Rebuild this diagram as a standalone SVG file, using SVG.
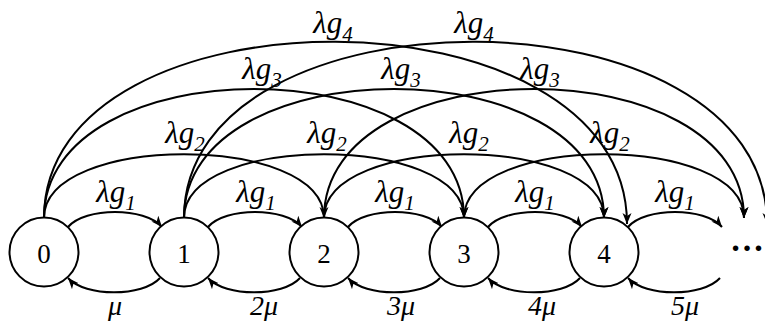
<svg xmlns="http://www.w3.org/2000/svg" width="765" height="321" viewBox="0 0 765 321">
<style>
.n{fill:#fff;stroke:#000;stroke-width:2}
.d{font-family:"Liberation Serif",serif;font-size:27px;text-anchor:middle;fill:#000}
.l{font-family:"Liberation Serif",serif;font-size:31px;font-style:italic;text-anchor:middle;fill:#000}
.m{font-size:28px}
.s{font-size:21px}
.c{fill:none;stroke:#000;stroke-width:2;marker-end:url(#a)}
</style>
<defs>
<marker id="a" markerUnits="userSpaceOnUse" markerWidth="13" markerHeight="11" refX="11" refY="4.5" orient="auto">
<path d="M0,0 L11,4.5 L0,9 L3,4.5 z" fill="#000"/>
</marker>
</defs>
<g id="connectors">
<path class="c" d="M68 227 C85 207 145 207 162 227"/>
<path class="c" d="M208 227 C225 207 285 207 302 227"/>
<path class="c" d="M348 227 C365 207 425 207 442 227"/>
<path class="c" d="M488 227 C505 207 565 207 582 227"/>
<path class="c" d="M628 227 C645 207 705 207 722 227"/>
<path class="c" d="M160 278 C143 297 85 297 68 278"/>
<path class="c" d="M300 278 C283 297 225 297 208 278"/>
<path class="c" d="M440 278 C423 297 365 297 348 278"/>
<path class="c" d="M580 278 C563 297 505 297 488 278"/>
<path class="c" d="M720 278 C703 297 645 297 628 278"/>
<path class="c" d="M44 218 C44 133 324 133 324 218"/>
<path class="c" d="M184 218 C184 133 464 133 464 218"/>
<path class="c" d="M324 218 C324 133 604 133 604 218"/>
<path class="c" d="M464 218 C464 133 744 133 744 218"/>
<path class="c" d="M44 218 C44 46 464 46 464 218"/>
<path class="c" d="M184 218 C184 46 604 46 604 218"/>
<path class="c" d="M324 218 C324 46 744 46 744 218"/>
<path class="c" d="M44 218 C44 -18 627 -18 627 224"/>
<path class="c" d="M184 218 C184 -18 767 -18 767 224"/>
</g>
<g id="n0"><circle class="n" cx="44" cy="252" r="34.5"/><text class="d" x="44" y="263">0</text></g>
<g id="n1"><circle class="n" cx="184" cy="252" r="34.5"/><text class="d" x="184" y="263">1</text></g>
<g id="n2"><circle class="n" cx="324" cy="252" r="34.5"/><text class="d" x="324" y="263">2</text></g>
<g id="n3"><circle class="n" cx="464" cy="252" r="34.5"/><text class="d" x="464" y="263">3</text></g>
<g id="n4"><circle class="n" cx="604" cy="252" r="34.5"/><text class="d" x="604" y="263">4</text></g>
<g id="n5"><text x="747" y="251" font-family="Liberation Serif, serif" font-size="34" font-weight="bold" text-anchor="middle">…</text></g>
<g id="labels">
<text class="l" x="116" y="202">λg<tspan class="s" dy="8">1</tspan></text>
<text class="l" x="256" y="202">λg<tspan class="s" dy="8">1</tspan></text>
<text class="l" x="395" y="202">λg<tspan class="s" dy="8">1</tspan></text>
<text class="l" x="535" y="202">λg<tspan class="s" dy="8">1</tspan></text>
<text class="l" x="675" y="202">λg<tspan class="s" dy="8">1</tspan></text>
<text class="l" x="185" y="143">λg<tspan class="s" dy="8">2</tspan></text>
<text class="l" x="327" y="143">λg<tspan class="s" dy="8">2</tspan></text>
<text class="l" x="469" y="143">λg<tspan class="s" dy="8">2</tspan></text>
<text class="l" x="610" y="143">λg<tspan class="s" dy="8">2</tspan></text>
<text class="l" x="262" y="79">λg<tspan class="s" dy="8">3</tspan></text>
<text class="l" x="401" y="79">λg<tspan class="s" dy="8">3</tspan></text>
<text class="l" x="540" y="79">λg<tspan class="s" dy="8">3</tspan></text>
<text class="l" x="333" y="33">λg<tspan class="s" dy="8">4</tspan></text>
<text class="l" x="474" y="33">λg<tspan class="s" dy="8">4</tspan></text>
<text class="l m" x="115" y="315">μ</text>
<text class="l m" x="264" y="315">2μ</text>
<text class="l m" x="401" y="315">3μ</text>
<text class="l m" x="542" y="315">4μ</text>
<text class="l m" x="685" y="315">5μ</text>
</g>
</svg>
